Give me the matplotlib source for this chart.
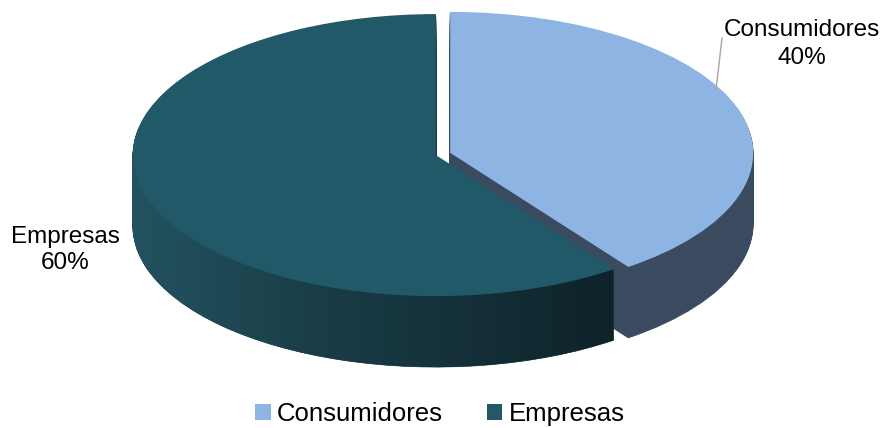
import numpy as np
import matplotlib
matplotlib.use("Agg")
import matplotlib.pyplot as plt
from matplotlib.path import Path
from matplotlib.patches import PathPatch
from matplotlib.colors import LinearSegmentedColormap
from matplotlib.lines import Line2D

plt.rcParams['font.family'] = ['Liberation Sans', 'DejaVu Sans']

# ---- data ----
categories = ['Consumidores', 'Empresas']
values = [40, 60]

# ---- styles ----
top_colors = ['#8EB4E3', '#215968']
side_colors = ['#3A4A5F', '#173A44']
explode = [0.025, 0.025]

W, H = 883, 428
fig = plt.figure(figsize=(W / 100, H / 100), dpi=100)
ax = fig.add_axes([0, 0, 1, 1])
ax.axis('off')

# pixel geometry of the flattened pie
cx, cy = 443, 154      # centre of top face (pixels)
ax_px, ay_px = 303, 141  # horizontal / vertical radii in pixels
depth = 71 / ay_px       # wall thickness in data units
n_layers = 70

emp_paths = []
for k in range(n_layers, 0, -1):
    dz = depth * k / n_layers
    wedges, _ = ax.pie(values, explode=explode, startangle=90, counterclock=False,
                       colors=side_colors, center=(0, -dz),
                       wedgeprops=dict(linewidth=0.4, edgecolor=None))
    wedges[0].set_zorder(1)
    wedges[0].set_edgecolor(side_colors[0])
    wedges[1].set_zorder(2)
    wedges[1].set_edgecolor(side_colors[1])
    emp_paths.append(wedges[1].get_path())

top_wedges, _ = ax.pie(values, explode=explode, startangle=90, counterclock=False,
                       colors=top_colors, center=(0, 0),
                       wedgeprops=dict(linewidth=0))
for w in top_wedges:
    w.set_zorder(4)

# horizontal shading on the Empresas wall
compound = Path.make_compound_path(*emp_paths)
clip = PathPatch(compound, transform=ax.transData, facecolor='none', edgecolor='none')
ax.add_patch(clip)
cmap = LinearSegmentedColormap.from_list('wall', ['#235461', '#1A3F49', '#132E36', '#0D1F25'])
grad = np.linspace(0, 1, 256).reshape(1, -1)
im = ax.imshow(grad, cmap=cmap, aspect='auto', extent=(-1.05, 0.72, -1.6, 0.2),
               zorder=3, interpolation='bilinear')
im.set_clip_path(clip)

ax.set_aspect('auto')
ax.set_xlim(-cx / ax_px, (W - cx) / ax_px)
ax.set_ylim(-(H - cy) / ay_px, cy / ay_px)

# ---- labels ----
def fx(x):
    return x / W

def fy(y):
    return 1 - y / H

fig.text(fx(802), fy(44), f"{categories[0]}\n{values[0]}%", ha='center', va='center',
         fontsize=17.5, color='#000000', linespacing=1.3)
fig.text(fx(65), fy(250), f"{categories[1]}\n{values[1]}%", ha='center', va='center',
         fontsize=17.5, color='#000000', linespacing=1.25)
fig.add_artist(Line2D([fx(722), fx(716)], [fy(38), fy(90)], color='#A6A6A6', lw=1.0,
                      transform=fig.transFigure))

fig.legend(handles=top_wedges, labels=categories, loc='center',
           bbox_to_anchor=(fx(440), fy(414)), ncol=2, frameon=False, fontsize=18.5,
           handlelength=0.6, handleheight=0.6, handletextpad=0.25, columnspacing=1.7,
           borderaxespad=0, borderpad=0)

fig.savefig('out.png', dpi=100)
